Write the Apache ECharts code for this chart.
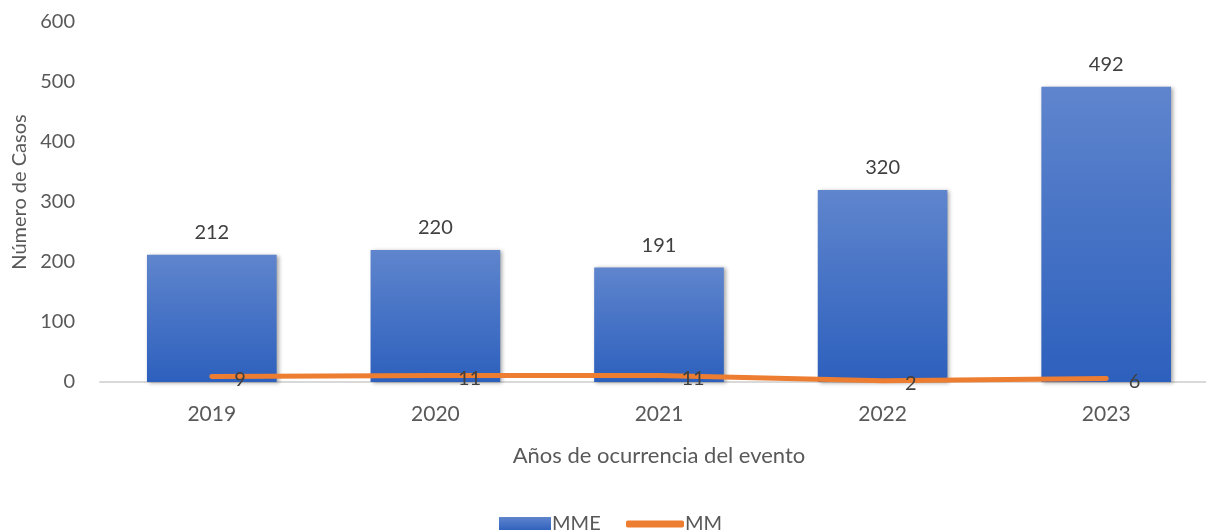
<!DOCTYPE html>
<html>
<head>
<meta charset="utf-8">
<script src="https://cdn.jsdelivr.net/npm/echarts@6/dist/echarts.min.js"></script>
<style>
html,body{margin:0;padding:0;background:#fff;}
#chart{width:1206px;height:530px;}
</style>
</head>
<body>
<div id="chart"></div>
<script>
const categories = ['2019', '2020', '2021', '2022', '2023'];
const mmeValues = [212, 220, 191, 320, 492];
const mmValues = [9, 11, 11, 2, 6];
const yTicks = { min: 0, max: 600, interval: 100 };

const FONT = 'Lato, "Open Sans", sans-serif';
const chart = echarts.init(document.getElementById('chart'));
chart.setOption({
  animation: false,
  textStyle: { fontFamily: FONT },
  grid: { left: 100, width: 1118, top: 22, height: 360, containLabel: false, outerBoundsMode: 'none' },
  legend: [
    {
      data: [{ name: 'MME', icon: 'rect' }],
      left: 494, top: 509,
      itemWidth: 52, itemHeight: 14, itemGap: 6,
      textStyle: { fontSize: 20, color: '#595959', fontFamily: FONT, padding: [0, 0, 0, -4] }
    },
    {
      data: [{ name: 'MM', icon: 'roundRect', itemStyle: { color: '#ed7d31', opacity: 1 } }],
      left: 621, top: 509,
      itemWidth: 58, itemHeight: 7,
      textStyle: { fontSize: 20, color: '#595959', fontFamily: FONT, padding: [0, 0, 0, -4] }
    }
  ],
  xAxis: {
    type: 'category',
    data: categories,
    name: 'Años de ocurrencia del evento',
    nameLocation: 'middle',
    nameGap: 63,
    nameTextStyle: { fontSize: 22, color: '#595959' },
    axisLine: { lineStyle: { color: '#d9d9d9', width: 2 } },
    axisTick: { show: false },
    axisLabel: { fontSize: 21, color: '#595959', margin: 22 }
  },
  yAxis: {
    type: 'value',
    min: yTicks.min, max: yTicks.max, interval: yTicks.interval,
    name: 'Número de Casos',
    nameLocation: 'middle',
    nameGap: 70,
    nameTextStyle: { fontSize: 20, color: '#595959', padding: [0, 0, 0, 20] },
    axisLine: { show: false },
    axisTick: { show: false },
    splitLine: { show: false },
    axisLabel: { fontSize: 20, color: '#595959', margin: 25 }
  },
  series: [
    {
      name: 'MME',
      type: 'bar',
      data: mmeValues,
      barWidth: '58%',
      itemStyle: {
        color: new echarts.graphic.LinearGradient(0, 0, 0, 1, [
          { offset: 0, color: '#5f85cd' },
          { offset: 1, color: '#2d60bd' }
        ]),
        shadowColor: 'rgba(0,0,0,0.35)',
        shadowBlur: 4,
        shadowOffsetX: 2,
        shadowOffsetY: 1
      },
      label: {
        show: true, position: 'top', distance: 12,
        fontSize: 20, color: '#404040', fontFamily: FONT
      },
      z: 2
    },
    {
      name: 'MM',
      type: 'line',
      data: mmValues,
      symbol: 'circle',
      symbolSize: 1,
      showSymbol: true,
      lineStyle: { color: '#ed7d31', width: 5, cap: 'round', join: 'round' },
      itemStyle: { color: '#ed7d31' },
      label: {
        show: true, position: 'right', distance: 22, offset: [0, 3],
        fontSize: 20, color: '#404040', fontFamily: FONT
      },
      z: 3
    }
  ]
});
</script>
</body>
</html>
